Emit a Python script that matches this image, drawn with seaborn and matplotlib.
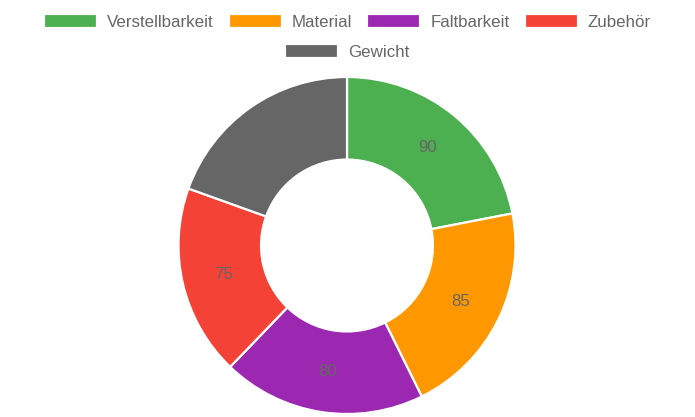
import matplotlib
matplotlib.use("Agg")
import matplotlib.pyplot as plt
import numpy as np
import seaborn as sns

kategorien = ["Verstellbarkeit", "Material", "Faltbarkeit", "Zubehör", "Gewicht"]
werte = [90, 85, 80, 75, 80]
farben = ["#4CAF50", "#FF9800", "#9C27B0", "#F44336", "#666666"]

sns.set_theme(style="white")
plt.rcParams["font.family"] = ["Liberation Sans", "DejaVu Sans"]
gr = 12.2

fig = plt.figure(figsize=(6.95, 4.17), dpi=100)
ax = fig.add_axes([178.5 / 695, 3 / 417, 337 / 695, 337 / 417])

wedges, _ = ax.pie(
    werte,
    colors=sns.color_palette(farben),
    startangle=90,
    counterclock=False,
    radius=1,
    wedgeprops=dict(width=0.49, edgecolor="white", linewidth=1.6),
)
ax.set_xlim(-1, 1)
ax.set_ylim(-1, 1)
ax.set_aspect("equal")
ax.axis("off")

# Werte mittig in jedes Segment
gesamt = sum(werte)
start = 90.0
for w in werte:
    mitte = np.deg2rad(start - w / gesamt * 360 / 2)
    ax.text(0.755 * np.cos(mitte), 0.755 * np.sin(mitte), str(w),
            ha="center", va="center", color="#666666", fontsize=gr)
    start -= w / gesamt * 360

px = gr * 100 / 72
opts = dict(frameon=False, fontsize=gr, labelcolor="#666666",
            handlelength=53 / px, handleheight=14 / px,
            handletextpad=10 / px, columnspacing=15 / px, borderpad=0,
            borderaxespad=0)
fig.legend(wedges[:4], kategorien[:4], loc="center", ncol=4,
           bbox_to_anchor=(0.5, 1 - 22 / 417), **opts)
fig.legend(wedges[4:], kategorien[4:], loc="center", ncol=1,
           bbox_to_anchor=(0.5, 1 - 52 / 417), **opts)

fig.savefig("out.png", dpi=100)
